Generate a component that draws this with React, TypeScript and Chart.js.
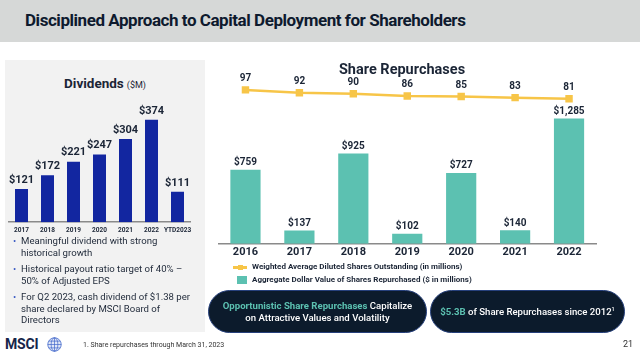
import React, { useEffect, useRef } from "react";
import { Chart, registerables } from "chart.js";
Chart.register(...registerables);

const divYears = ["2017", "2018", "2019", "2020", "2021", "2022", "YTD2023"];
const dividends = [121, 172, 221, 247, 304, 374, 111];

const repYears = ["2016", "2017", "2018", "2019", "2020", "2021", "2022"];
const repurchases = [759, 137, 925, 102, 727, 140, 1285];
const sharesOut = [97, 92, 90, 86, 85, 83, 81];

const NAVY = "#1b2536";
const DIV_BLUE = "#1226a0";
const TEAL = "#5cc1b1";
const GOLD = "#f7c548";
const FONT = "Roboto, 'Noto Sans', sans-serif";

const money = (v: number) => "$" + v.toLocaleString("en-US");

const valueLabels = {
  id: "valueLabels",
  afterDatasetsDraw(chart: any, _args: any, opts: any) {
    const ctx = chart.ctx;
    const cfgs = (opts && opts.sets) || [];
    chart.data.datasets.forEach((ds: any, i: number) => {
      const cfg = cfgs[i];
      if (!cfg) return;
      const meta = chart.getDatasetMeta(i);
      ctx.save();
      ctx.font = `bold ${cfg.size}px ${FONT}`;
      ctx.fillStyle = NAVY;
      ctx.textAlign = "center";
      ctx.textBaseline = "middle";
      meta.data.forEach((el: any, j: number) => {
        const v = ds.data[j];
        const txt = cfg.money ? money(v) : String(v);
        ctx.fillText(txt, el.x, el.y - cfg.offset);
      });
      ctx.restore();
    });
  },
};

function DividendsChart() {
  const ref = useRef<HTMLCanvasElement>(null);
  useEffect(() => {
    const chart = new Chart(ref.current!, {
      type: "bar",
      data: {
        labels: divYears,
        datasets: [
          {
            data: dividends,
            backgroundColor: DIV_BLUE,
            barPercentage: 0.5,
            categoryPercentage: 1,
          },
        ],
      },
      options: {
        animation: false,
        responsive: true,
        maintainAspectRatio: false,
        layout: { padding: { left: 8.5, right: 9.5, top: 10, bottom: 0 } },
        plugins: {
          legend: { display: false },
          tooltip: { enabled: false },
          valueLabels: { sets: [{ size: 11, offset: 9, money: true }] },
        } as any,
        scales: {
          x: {
            grid: { display: false, drawTicks: false },
            border: { display: true, color: "#8a8a8a", width: 1.5 },
            ticks: {
              color: NAVY,
              font: { family: FONT, size: 6.5, weight: "bold" },
              padding: 4,
              maxRotation: 0,
              autoSkip: false,
            },
          },
          y: { display: false, min: 0, max: 399 },
        },
      },
      plugins: [valueLabels],
    });
    return () => chart.destroy();
  }, []);
  return (
    <div style={{ position: "absolute", left: 0, top: 103, width: 200, height: 135 }}>
      <canvas ref={ref} />
    </div>
  );
}

function RepurchaseChart() {
  const ref = useRef<HTMLCanvasElement>(null);
  useEffect(() => {
    const chart = new Chart(ref.current!, {
      data: {
        labels: repYears,
        datasets: [
          {
            type: "line",
            data: sharesOut,
            yAxisID: "y1",
            borderColor: GOLD,
            backgroundColor: GOLD,
            borderWidth: 2.5,
            pointStyle: "rect",
            pointRadius: 3.5,
            pointBackgroundColor: GOLD,
            pointBorderColor: GOLD,
            order: 0,
          },
          {
            type: "bar",
            data: repurchases,
            yAxisID: "y",
            backgroundColor: TEAL,
            barPercentage: 0.56,
            categoryPercentage: 1,
            order: 1,
          },
        ],
      } as any,
      options: {
        animation: false,
        responsive: true,
        maintainAspectRatio: false,
        layout: { padding: { left: 6, right: 16, top: 25, bottom: 0 } },
        plugins: {
          legend: { display: false },
          tooltip: { enabled: false },
          valueLabels: {
            sets: [
              { size: 10, offset: 11, money: false },
              { size: 10, offset: 7, money: true },
            ],
          },
        } as any,
        scales: {
          x: {
            grid: { display: false, drawTicks: false },
            border: { display: true, color: "#8a8a8a", width: 1.5 },
            ticks: {
              color: NAVY,
              font: { family: FONT, size: 11, weight: "bold" },
              padding: 2,
              maxRotation: 0,
              autoSkip: false,
            },
          },
          y: { display: false, min: 0, max: 1649 },
          y1: { display: false, min: -180.4, max: 109.4 },
        },
      },
      plugins: [valueLabels],
    });
    return () => chart.destroy();
  }, []);
  return (
    <div style={{ position: "absolute", left: 212, top: 58, width: 400, height: 203 }}>
      <canvas ref={ref} />
    </div>
  );
}

function Globe() {
  return (
    <svg width="15" height="15" viewBox="0 0 20 20" style={{ position: "absolute", left: 47, top: 337 }}>
      <circle cx="10" cy="10" r="9" fill="#dfe6f7" stroke="#3b63c9" strokeWidth="1" />
      <ellipse cx="10" cy="10" rx="4.5" ry="9" fill="none" stroke="#3b63c9" strokeWidth="0.9" />
      <line x1="10" y1="1" x2="10" y2="19" stroke="#3b63c9" strokeWidth="0.9" />
      <line x1="1" y1="10" x2="19" y2="10" stroke="#3b63c9" strokeWidth="0.9" />
      <line x1="2.5" y1="5.5" x2="17.5" y2="5.5" stroke="#3b63c9" strokeWidth="0.9" />
      <line x1="2.5" y1="14.5" x2="17.5" y2="14.5" stroke="#3b63c9" strokeWidth="0.9" />
    </svg>
  );
}

const bulletStyle: React.CSSProperties = {
  position: "relative",
  paddingLeft: 10,
  marginBottom: 5,
  lineHeight: "11.5px",
};

export default function App() {
  return (
    <div
      style={{
        position: "fixed",
        left: 0,
        top: 0,
        width: 640,
        height: 359,
        background: "#ffffff",
        fontFamily: FONT,
        overflow: "hidden",
        color: NAVY,
      }}
    >
      {/* header band */}
      <div style={{ position: "absolute", left: 0, top: 0, width: 640, height: 42, background: "#d6d8d7" }} />
      <div
        style={{
          position: "absolute",
          left: 25,
          top: 10,
          fontSize: 17,
          fontWeight: 700,
          color: "#0e1a2e",
          letterSpacing: -0.45,
          whiteSpace: "nowrap",
        }}
      >
        Disciplined Approach to Capital Deployment for Shareholders
      </div>

      {/* left panel */}
      <div style={{ position: "absolute", left: 5, top: 60, width: 200, height: 272, background: "#f2f2f2" }} />
      <div
        style={{
          position: "absolute",
          left: 5,
          width: 200,
          top: 73,
          textAlign: "center",
          whiteSpace: "nowrap",
        }}
      >
        <span style={{ fontSize: 13.5, fontWeight: 700 }}>Dividends</span>
        <span style={{ fontSize: 9, marginLeft: 3 }}>($M)</span>
      </div>
      <DividendsChart />

      <div style={{ position: "absolute", left: 11, top: 235, width: 195, fontSize: 9.6, color: "#1e2838", whiteSpace: "nowrap" }}>
        <div style={bulletStyle}>
          <span style={{ position: "absolute", left: 2, color: "#3b5bc4" }}>•</span>
          Meaningful dividend with strong
          <br />
          historical growth
        </div>
        <div style={bulletStyle}>
          <span style={{ position: "absolute", left: 2, color: "#3b5bc4" }}>•</span>
          Historical payout ratio target of 40% –
          <br />
          50% of Adjusted EPS
        </div>
        <div style={bulletStyle}>
          <span style={{ position: "absolute", left: 2, color: "#3b5bc4" }}>•</span>
          For Q2 2023, cash dividend of $1.38 per
          <br />
          share declared by MSCI Board of
          <br />
          Directors
        </div>
      </div>

      {/* share repurchases */}
      <RepurchaseChart />
      <div
        style={{
          position: "absolute",
          left: 302,
          width: 200,
          top: 61,
          textAlign: "center",
          fontSize: 14.5,
          fontWeight: 700,
          whiteSpace: "nowrap",
        }}
      >
        Share Repurchases
      </div>

      {/* legend */}
      <div style={{ position: "absolute", left: 233, top: 266, width: 14, height: 2.5, background: GOLD }} />
      <div style={{ position: "absolute", left: 237.5, top: 265, width: 5, height: 5, background: GOLD }} />
      <div style={{ position: "absolute", left: 252, top: 262, fontSize: 8, fontWeight: 700, whiteSpace: "nowrap" }}>
        Weighted Average Diluted Shares Outstanding (in millions)
      </div>
      <div style={{ position: "absolute", left: 237, top: 276, width: 10, height: 8, background: TEAL }} />
      <div style={{ position: "absolute", left: 252, top: 275, fontSize: 8, fontWeight: 700, whiteSpace: "nowrap" }}>
        Aggregate Dollar Value of Shares Repurchased ($ in millions)
      </div>

      {/* pills */}
      <div
        style={{
          position: "absolute",
          left: 208,
          top: 290,
          width: 219,
          height: 43,
          borderRadius: 22,
          background: "#0c1b2c",
          border: "1px solid #26407c",
          boxSizing: "border-box",
          display: "flex",
          alignItems: "center",
          justifyContent: "center",
          textAlign: "center",
          color: "#ffffff",
          fontSize: 9.6,
          fontWeight: 500,
          lineHeight: "11.5px",
          whiteSpace: "nowrap",
        }}
      >
        <div>
          <span style={{ color: TEAL, fontWeight: 700 }}>Opportunistic Share Repurchases</span> Capitalize
          <br />
          on Attractive Values and Volatility
        </div>
      </div>
      <div
        style={{
          position: "absolute",
          left: 430,
          top: 290,
          width: 195,
          height: 43,
          borderRadius: 22,
          background: "#0c1b2c",
          border: "1px solid #26407c",
          boxSizing: "border-box",
          display: "flex",
          alignItems: "center",
          justifyContent: "center",
          color: "#ffffff",
          fontSize: 9.6,
          fontWeight: 500,
          whiteSpace: "nowrap",
        }}
      >
        <div>
          <span style={{ color: TEAL, fontWeight: 700 }}>$5.3B</span> of Share Repurchases since 2012
          <sup style={{ fontSize: 5.5 }}>1</sup>
        </div>
      </div>

      {/* footer */}
      <div style={{ position: "absolute", left: 5, top: 336, fontSize: 14, fontWeight: 700, color: "#16254a", letterSpacing: -0.2 }}>
        MSCI
      </div>
      <Globe />
      <div style={{ position: "absolute", left: 83, top: 341, fontSize: 7, color: "#333333", whiteSpace: "nowrap" }}>
        1. Share repurchases through March 31, 2023
      </div>
      <div style={{ position: "absolute", right: 7, top: 339, fontSize: 9, color: "#333333" }}>21</div>
    </div>
  );
}
